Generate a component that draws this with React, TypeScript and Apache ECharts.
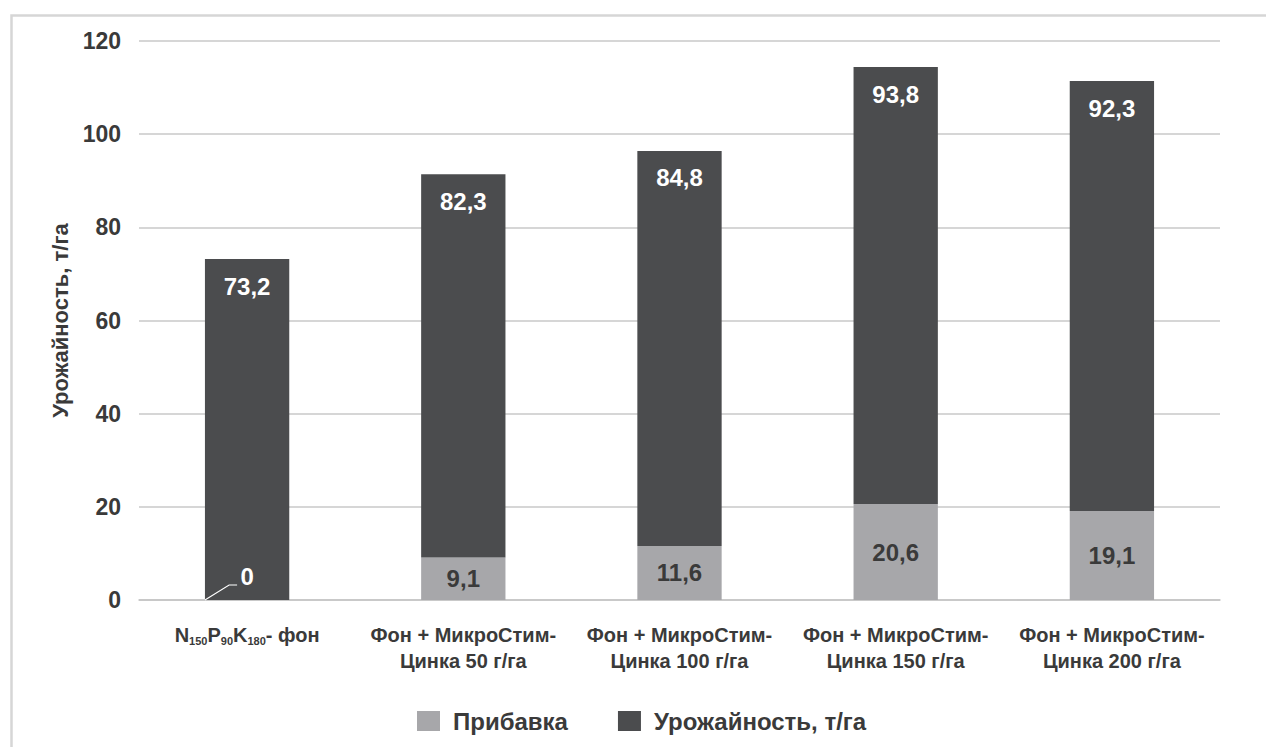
import React, { useEffect, useRef } from "react";
import * as echarts from "echarts";

const categories = [
  "N150P90K180- фон",
  "Фон + МикроСтим-\nЦинка 50 г/га",
  "Фон + МикроСтим-\nЦинка 100 г/га",
  "Фон + МикроСтим-\nЦинка 150 г/га",
  "Фон + МикроСтим-\nЦинка 200 г/га",
];
const increaseValues = [0, 9.1, 11.6, 20.6, 19.1];
const yieldValues = [73.2, 82.3, 84.8, 93.8, 92.3];
const seriesNames = ["Прибавка", "Урожайность, т/га"];
const yTicks = { min: 0, max: 120, interval: 20 };

const FONT = "'Liberation Sans', Arial, sans-serif";
const TEXT = "#3a3a3a";
const BAR_RATIO = 0.39;
const fmt = (v: number) => String(v).replace(".", ",");

export default function App() {
  const ref = useRef<HTMLDivElement>(null);
  useEffect(() => {
    if (!ref.current) return;
    const chart = echarts.init(ref.current, null, { renderer: "svg" });
    chart.setOption({
      animation: false,
      backgroundColor: "#ffffff",
      graphic: [
        {
          id: "frame",
          type: "rect",
          left: 9,
          top: 13,
          shape: { width: 1300, height: 800 },
          style: { fill: "none", stroke: "#d6d6d6", lineWidth: 2.5 },
          silent: true,
          z: 100,
        },
      ],
      grid: { left: 139, right: 46, top: 41, bottom: 147 },
      legend: {
        left: 412,
        top: 704,
        itemWidth: 23,
        itemHeight: 20,
        itemGap: 50,
        icon: "rect",
        textStyle: {
          fontFamily: FONT,
          fontWeight: "bold",
          fontSize: 24,
          color: TEXT,
          padding: [0, 0, 0, 8],
        },
        data: seriesNames,
      },
      xAxis: {
        type: "category",
        data: categories,
        axisLine: { lineStyle: { color: "#c4c4c4", width: 1.5 } },
        axisTick: { show: false },
        axisLabel: {
          interval: 0,
          margin: 22,
          fontFamily: FONT,
          fontWeight: "bold",
          fontSize: 20,
          lineHeight: 26,
          color: TEXT,
          formatter: (v: string, i: number) =>
            i === 0
              ? "{n|N}{s|150}{n|P}{s|90}{n|K}{s|180}{n|- фон}"
              : v,
          rich: {
            n: {
              fontFamily: FONT,
              fontWeight: "bold",
              fontSize: 20,
              color: TEXT,
              lineHeight: 26,
            },
            s: {
              fontFamily: FONT,
              fontWeight: "bold",
              fontSize: 11,
              color: TEXT,
              lineHeight: 26,
              padding: [12, 0, 0, 0],
            },
          },
        },
      },
      yAxis: {
        type: "value",
        min: yTicks.min,
        max: yTicks.max,
        interval: yTicks.interval,
        name: "Урожайность, т/га",
        nameLocation: "middle",
        nameGap: 61,
        nameTextStyle: {
          fontFamily: FONT,
          fontWeight: "bold",
          fontSize: 22,
          color: TEXT,
        },
        axisLine: { show: false },
        axisTick: { show: false },
        axisLabel: {
          margin: 18,
          fontFamily: FONT,
          fontWeight: "bold",
          fontSize: 23,
          color: TEXT,
        },
        splitLine: { lineStyle: { color: "#c8c8c8", width: 1.5 } },
      },
      series: [
        {
          name: seriesNames[0],
          type: "bar",
          stack: "total",
          barWidth: BAR_RATIO * 100 + "%",
          data: increaseValues.map((v, i) =>
            i === 0 ? { value: v, label: { color: "#ffffff" } } : v
          ),
          itemStyle: { color: "#a7a7aa" },
          label: {
            show: true,
            position: "inside",
            fontFamily: FONT,
            fontWeight: "bold",
            fontSize: 24,
            color: TEXT,
            formatter: (p: any) => fmt(p.value),
          },
          labelLayout: (p: any) =>
            p.dataIndex === 0 ? { dy: -24 } : {},
        },
        {
          name: seriesNames[1],
          type: "bar",
          stack: "total",
          barWidth: BAR_RATIO * 100 + "%",
          data: yieldValues,
          itemStyle: { color: "#4b4c4e" },
          label: {
            show: true,
            position: "insideTop",
            distance: 15,
            fontFamily: FONT,
            fontWeight: "bold",
            fontSize: 24,
            color: "#ffffff",
            formatter: (p: any) => fmt(p.value),
          },
        },
      ],
    });

    // leader line for the "0" label of the first bar, derived from the axis scales
    const p0 = chart.convertToPixel({ gridIndex: 0 }, [0, increaseValues[0]]) as number[];
    const p1 = chart.convertToPixel({ gridIndex: 0 }, [1, increaseValues[0]]) as number[];
    if (p0 && p1) {
      const band = p1[0] - p0[0];
      const half = (band * BAR_RATIO) / 2;
      const left = p0[0] - half;
      const kinkY = p0[1] - 15;
      chart.setOption({
        graphic: [
          {
            id: "leader",
            type: "polyline",
            shape: {
              points: [
                [left, p0[1]],
                [p0[0] - 18, kinkY],
                [p0[0] - 10, kinkY],
              ],
            },
            style: { stroke: "#ffffff", lineWidth: 1.2, fill: "none" },
            silent: true,
            z: 50,
          },
        ],
      });
    }
    return () => chart.dispose();
  }, []);
  return (
    <div
      ref={ref}
      style={{ position: "fixed", left: 0, top: 0, width: 1266, height: 747 }}
    />
  );
}
